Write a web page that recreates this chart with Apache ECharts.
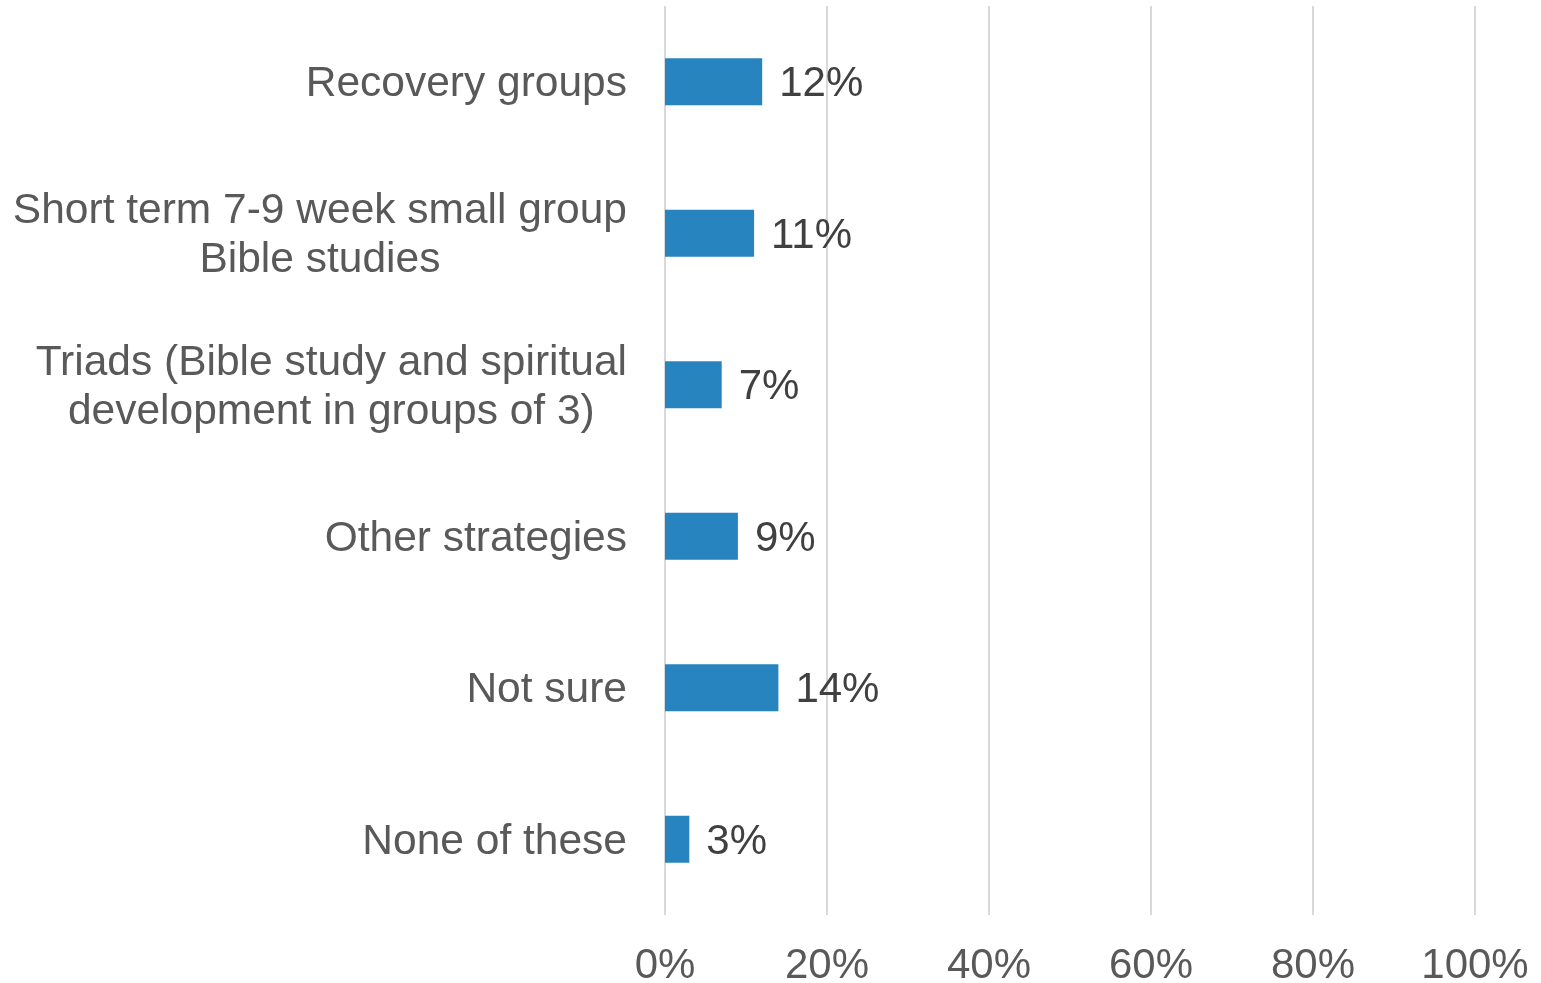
<!DOCTYPE html>
<html><head><meta charset="utf-8">
<script src="https://cdn.jsdelivr.net/npm/echarts@6/dist/echarts.min.js"></script>
<style>html,body{margin:0;padding:0;background:#fff}#c{width:1541px;height:983px}</style>
</head><body><div id="c"></div>
<script>
const categories = [
  "Recovery groups",
  "Short term 7-9 week small group\nBible studies",
  "Triads (Bible study and spiritual\ndevelopment in groups of 3)",
  "Other strategies",
  "Not sure",
  "None of these"
];
const values = [12, 11, 7, 9, 14, 3];
const xTicks = [0, 20, 40, 60, 80, 100];

const FONT = 'Liberation Sans, Arial, sans-serif';
const chart = echarts.init(document.getElementById('c'), null, {renderer: 'canvas'});
chart.setOption({
  animation: false,
  backgroundColor: '#ffffff',
  grid: {left: 665, right: 66, top: 6, bottom: 68, containLabel: false, outerBoundsMode: 'none'},
  xAxis: {
    type: 'value', min: xTicks[0], max: xTicks[xTicks.length - 1], interval: 20,
    axisLine: {show: false}, axisTick: {show: false},
    splitLine: {show: true, lineStyle: {color: '#D9D9D9', width: 2}},
    axisLabel: {formatter: '{value}%', color: '#595959', fontSize: 42,
      fontFamily: FONT, margin: 30}
  },
  yAxis: {
    type: 'category', data: categories, inverse: true,
    axisLine: {show: false}, axisTick: {show: false}, splitLine: {show: false},
    axisLabel: {
      margin: 38, align: 'right', color: '#595959', fontSize: 42.5,
      fontFamily: FONT, lineHeight: 49, padding: [6, 0, 0, 0],
      formatter: v => v.split('\n').map(s => '{c|' + s + '}').join('\n'),
      rich: {c: {align: 'center', color: '#595959', fontSize: 42.5, lineHeight: 49,
        fontFamily: FONT}}
    }
  },
  series: [{
    type: 'bar', data: values, barWidth: 47,
    itemStyle: {color: '#2784BF'},
    label: {show: true, position: 'right', distance: 17, formatter: '{c}%', offset: [0, 3],
      color: '#404040', fontSize: 42, fontFamily: FONT, padding: [10, 0, 0, 0]}
  }]
});
</script></body></html>
